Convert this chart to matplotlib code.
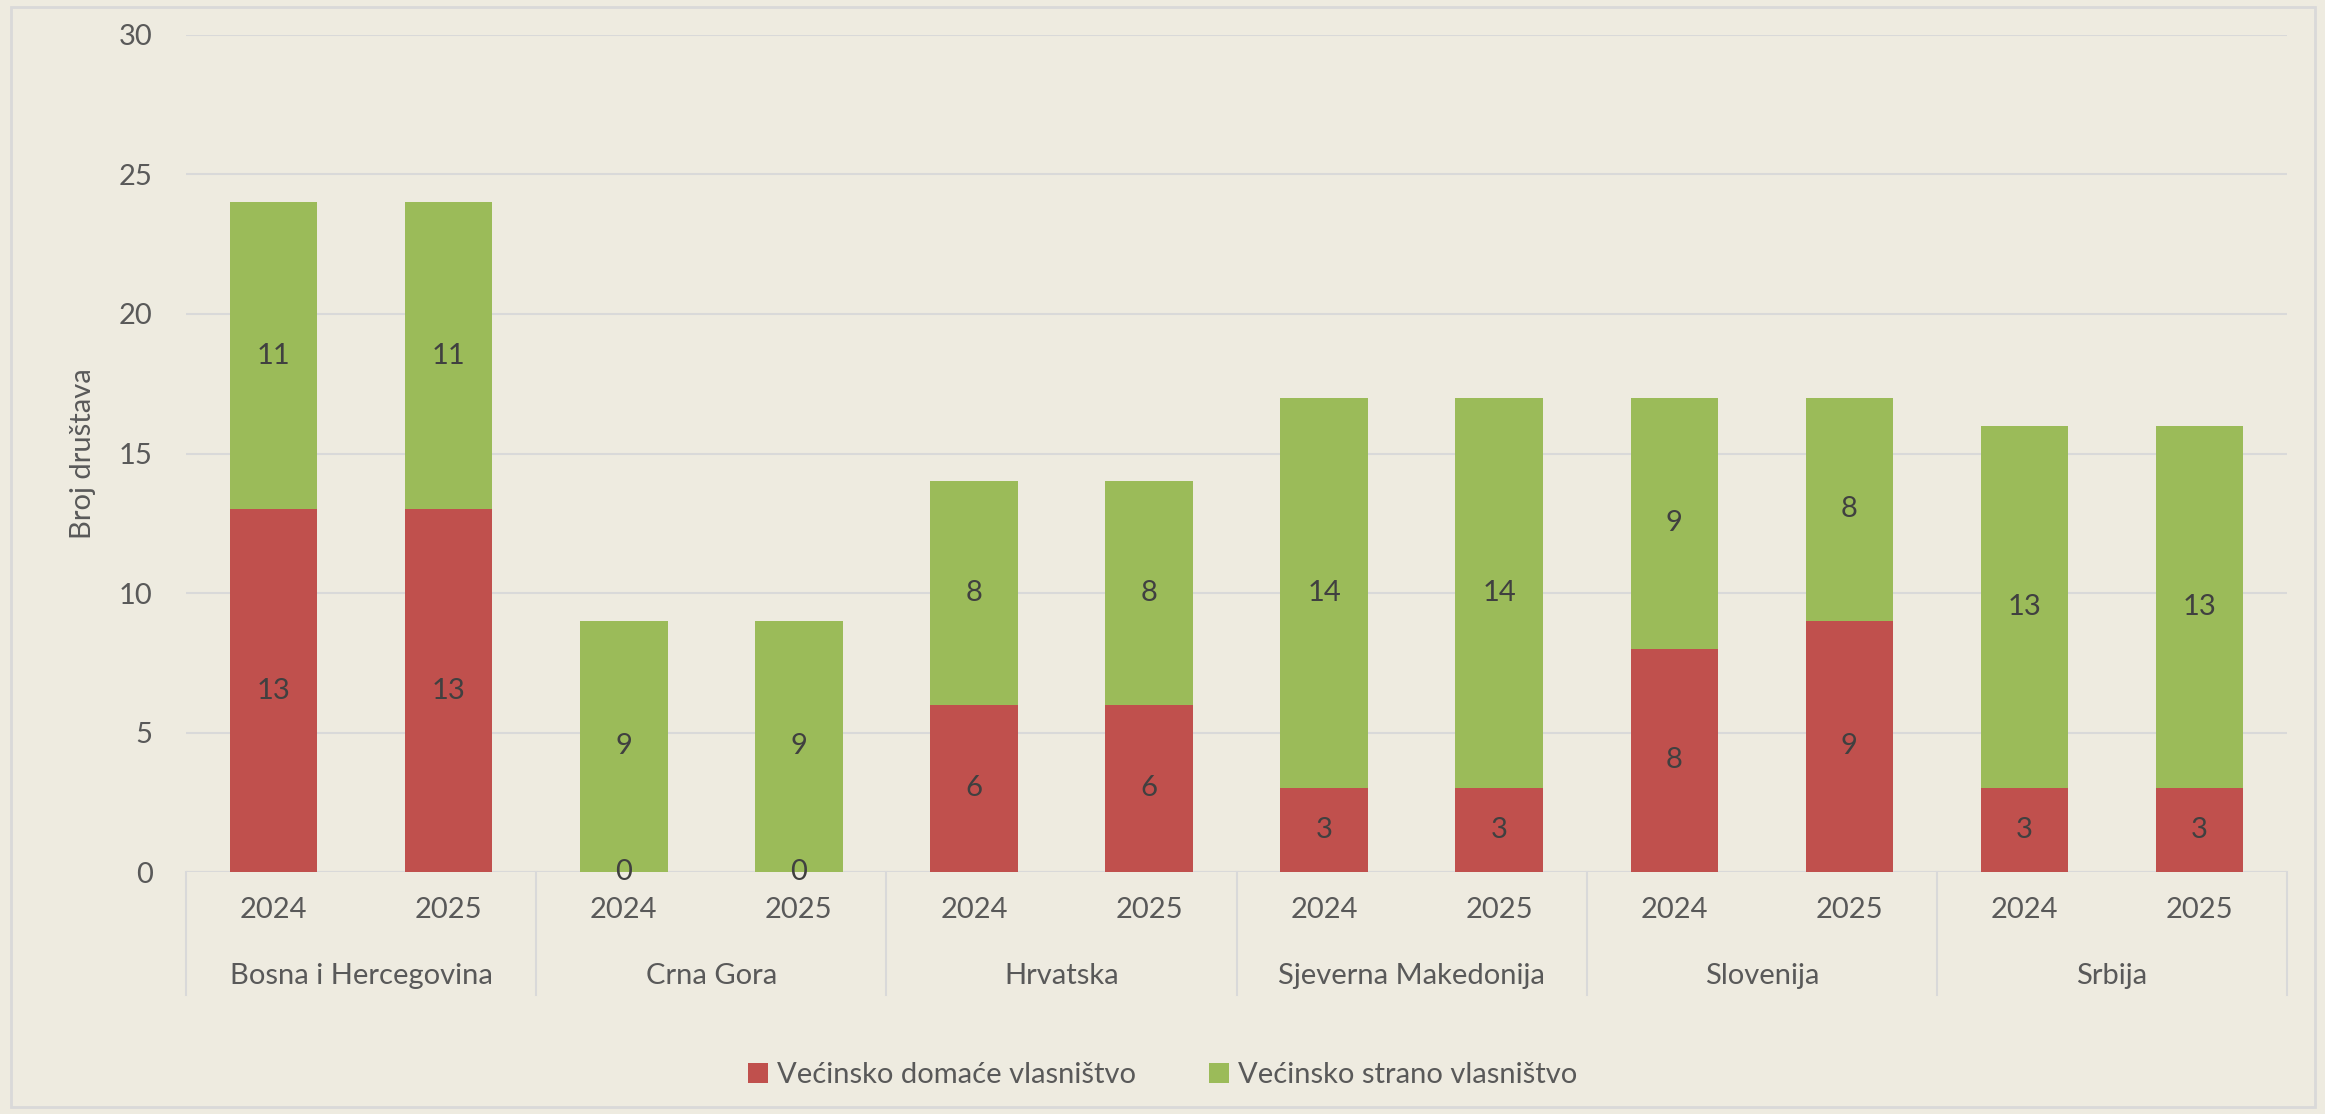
import numpy as np
import matplotlib.pyplot as plt
from matplotlib.patches import Rectangle

countries = ['Bosna i Hercegovina', 'Crna Gora', 'Hrvatska', 'Sjeverna Makedonija', 'Slovenija', 'Srbija']
years = ['2024', '2025']
domace = [13, 13, 0, 0, 6, 6, 3, 3, 8, 9, 3, 3]
strano = [11, 11, 9, 9, 8, 8, 14, 14, 9, 8, 13, 13]

plt.rcParams['font.family'] = ['Lato', 'DejaVu Sans']

bg = '#EEEBE0'
red = '#C0504D'
green = '#9BBB59'
grid = '#D9D9D9'
txt = '#595959'

fig = plt.figure(figsize=(23.25, 11.14), dpi=100, facecolor=bg)
ax = fig.add_axes([0.080, 0.2172, 0.9037, 0.7514])
ax.set_facecolor(bg)

x = np.arange(len(domace))
b1 = ax.bar(x, domace, width=0.5, color=red, label='Većinsko domaće vlasništvo', zorder=3)
b2 = ax.bar(x, strano, width=0.5, bottom=domace, color=green, label='Većinsko strano vlasništvo', zorder=3)

for i in x:
    ax.text(i, domace[i] / 2, str(domace[i]), ha='center', va='center', fontsize=21, color='#404040', zorder=4)
    ax.text(i, domace[i] + strano[i] / 2, str(strano[i]), ha='center', va='center', fontsize=21, color='#404040', zorder=4)

ax.set_xlim(-0.5, len(domace) - 0.5)
ax.set_ylim(0, 30)
ax.set_yticks(range(0, 31, 5))
ax.yaxis.grid(True, color=grid, lw=1.5)
ax.set_axisbelow(True)
for s in ax.spines.values():
    s.set_visible(False)
ax.axhline(0, color=grid, lw=1.5, zorder=2)
ax.tick_params(axis='y', length=0, labelsize=21, labelcolor=txt, pad=24)
ax.tick_params(axis='x', length=0, labelsize=21, labelcolor=txt, pad=18)
ax.set_xticks(x)
ax.set_xticklabels(years * len(countries))
ax.set_ylabel('Broj društava', fontsize=21, color=txt)
ax.yaxis.set_label_coords(-0.043, 0.5)

# second level of category axis
tr = ax.get_xaxis_transform()
for g in range(len(countries) + 1):
    ax.plot([g * 2 - 0.5, g * 2 - 0.5], [0, -0.147], transform=tr, color=grid, lw=1.5, clip_on=False)
for g, c in enumerate(countries):
    ax.text(g * 2 + 0.5, -0.124, c, transform=tr, ha='center', va='center', fontsize=21, color=txt)

fig.legend(handles=[b1, b2], loc='center', bbox_to_anchor=(0.5, 1 - 1075 / 1114), ncol=2,
           frameon=False, fontsize=21, labelcolor=txt, handlelength=0.7, handleheight=0.7,
           handletextpad=0.3, columnspacing=2.5)

fig.patches.append(Rectangle((11 / 2325, 7 / 1114), 2304 / 2325, 1100 / 1114, transform=fig.transFigure,
                             fill=False, edgecolor=grid, lw=2))

fig.savefig('out.png', dpi=100, facecolor=bg)
